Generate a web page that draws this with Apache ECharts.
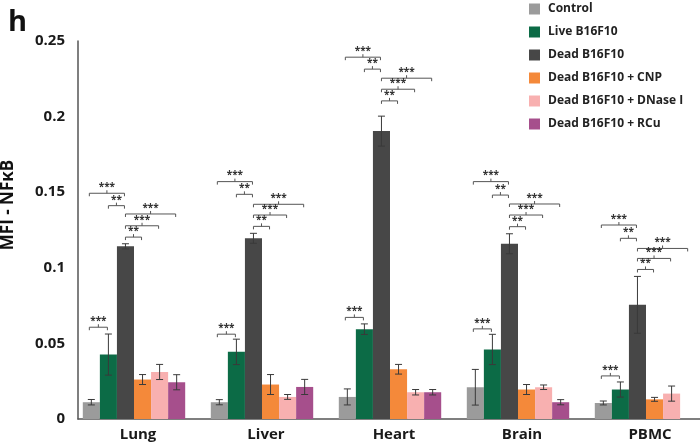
<!DOCTYPE html>
<html>
<head>
<meta charset="utf-8">
<script src="https://cdn.jsdelivr.net/npm/echarts@6/dist/echarts.min.js"></script>
<style>
  html, body { margin: 0; padding: 0; background: #fff; }
  #chart { width: 700px; height: 446px; }
</style>
</head>
<body>
<div id="chart"></div>
<script>
// ---- data ----
const categories = ['Lung', 'Liver', 'Heart', 'Brain', 'PBMC'];
const seriesNames = ['Control', 'Live B16F10', 'Dead B16F10', 'Dead B16F10 + CNP', 'Dead B16F10 + DNase I', 'Dead B16F10 + RCu'];
const yTicks = [0, 0.05, 0.1, 0.15, 0.2, 0.25];

const control    = [0.0111, 0.0111, 0.0146, 0.0210, 0.0106];
const controlErr = [0.0018, 0.0017, 0.0053, 0.0118, 0.0013];
const live       = [0.0426, 0.0444, 0.0594, 0.0460, 0.0195];
const liveErr    = [0.0136, 0.0084, 0.0035, 0.0100, 0.0050];
const dead       = [0.1142, 0.1195, 0.1904, 0.1159, 0.0755];
const deadErr    = [0.0017, 0.0033, 0.0099, 0.0066, 0.0188];
const cnp        = [0.0261, 0.0228, 0.0329, 0.0195, 0.0130];
const cnpErr     = [0.0033, 0.0066, 0.0032, 0.0033, 0.0013];
const dnase      = [0.0311, 0.0146, 0.0177, 0.0210, 0.0168];
const dnaseErr   = [0.0050, 0.0016, 0.0018, 0.0015, 0.0050];
const rcu        = [0.0243, 0.0212, 0.0177, 0.0111, null];
const rcuErr     = [0.0050, 0.0050, 0.0018, 0.0017, null];

// significance brackets: [fromBar, toBar, label]
const bracketPairs = [[0, 2, '***'], [1, 2, '**'], [2, 5, '***'], [2, 4, '***'], [2, 3, '**'], [0, 1, '***']];
// bracket heights (data units) for each category, in bracketPairs order
const lungBrackets  = [0.1493, 0.1411, 0.1356, 0.1278, 0.1203, 0.0607];
const liverBrackets = [0.1570, 0.1486, 0.1420, 0.1349, 0.1274, 0.0561];
const heartBrackets = [0.2393, 0.2314, 0.2254, 0.2181, 0.2104, 0.0672];
const brainBrackets = [0.1570, 0.1481, 0.1422, 0.1349, 0.1272, 0.0596];
const pbmcBrackets  = [0.1283, 0.1195, 0.1128, 0.1062, 0.0989, 0.0285];

// ---- build ----
const colors = ['#9b9b9b', '#0c6b46', '#474747', '#f4893a', '#f8b0b0', '#a64f8c'];
const values = [control, live, dead, cnp, dnase, rcu];
const errs = [controlErr, liveErr, deadErr, cnpErr, dnaseErr, rcuErr];
const bracketLevels = [lungBrackets, liverBrackets, heartBrackets, brainBrackets, pbmcBrackets];
const FONT = '"Open Sans", "Liberation Sans", sans-serif';
const NB = seriesNames.length;
const CAT_FRAC = 0.8;

const errData = [];
values.forEach((arr, s) => arr.forEach((v, c) => {
  if (v != null) errData.push([c, s, v, errs[s][c]]);
}));
const bracketData = [];
bracketLevels.forEach((lv, c) => lv.forEach((y, k) => {
  bracketData.push([c, bracketPairs[k][0], bracketPairs[k][1], y, bracketPairs[k][2]]);
}));

const barSeries = seriesNames.map((name, s) => ({
  name: name,
  type: 'bar',
  xAxisIndex: 0, yAxisIndex: 0,
  data: values[s],
  barGap: '0%',
  barCategoryGap: '20%',
  itemStyle: { color: colors[s] },
  emphasis: { disabled: true },
  z: 2
}));

const errSeries = {
  type: 'custom',
  xAxisIndex: 0, yAxisIndex: 0,
  data: errData,
  encode: { x: 0, y: 2 },
  clip: false,
  z: 5,
  silent: true,
  renderItem: function (params, api) {
    const c = api.value(0), s = api.value(1), m = api.value(2), e = api.value(3);
    const bw = api.size([1, 0])[0] * CAT_FRAC / NB;
    const cx = api.coord([c, m])[0] + (s - (NB - 1) / 2) * bw;
    const yt = api.coord([c, m + e])[1];
    const yb = api.coord([c, m - e])[1];
    const st = { stroke: '#3a3a3a', lineWidth: 1 };
    const h = 3.5;
    return {
      type: 'group',
      children: [
        { type: 'line', shape: { x1: cx, y1: yt, x2: cx, y2: yb }, style: st },
        { type: 'line', shape: { x1: cx - h, y1: yt, x2: cx + h, y2: yt }, style: st },
        { type: 'line', shape: { x1: cx - h, y1: yb, x2: cx + h, y2: yb }, style: st }
      ]
    };
  }
};

const bracketSeries = {
  type: 'custom',
  xAxisIndex: 0, yAxisIndex: 0,
  data: bracketData,
  encode: { x: 0, y: 3 },
  clip: false,
  z: 6,
  silent: true,
  renderItem: function (params, api) {
    const c = api.value(0), a = api.value(1), b = api.value(2), y = api.value(3);
    const label = bracketData[params.dataIndex][4];
    const bw = api.size([1, 0])[0] * CAT_FRAC / NB;
    const base = api.coord([c, y]);
    const x0 = base[0] + (a - (NB - 1) / 2) * bw - (a === 0 ? 2 : 0);
    const x1 = base[0] + (b - (NB - 1) / 2) * bw - 1;
    const py = base[1];
    const xm = (x0 + x1) / 2;
    const st = { stroke: '#555', lineWidth: 1, fill: null };
    return {
      type: 'group',
      children: [
        { type: 'polyline', shape: { points: [[x0, py + 3], [x0, py], [x1, py], [x1, py + 3]] }, style: st },
        { type: 'line', shape: { x1: xm, y1: py, x2: xm, y2: py - 3 }, style: st },
        { type: 'text', style: { text: label, x: xm, y: py - 1, textAlign: 'center', textVerticalAlign: 'bottom',
          fontSize: 10, fontWeight: 'bold', fill: '#333', fontFamily: FONT } }
      ]
    };
  }
};

const chart = echarts.init(document.getElementById('chart'), null, { renderer: 'canvas' });
chart.setOption({
  animation: false,
  backgroundColor: '#fff',
  title: {
    text: 'h', left: 3, top: 3,
    textStyle: { fontSize: 29, fontWeight: 'bold', color: '#111', fontFamily: FONT }
  },
  legend: {
    data: seriesNames,
    orient: 'vertical',
    left: 529, top: 3,
    icon: 'rect',
    itemWidth: 11, itemHeight: 11, itemGap: 11,
    padding: 0,
    selectedMode: false,
    textStyle: { fontSize: 12, fontWeight: 'bold', color: '#222', fontFamily: FONT, lineHeight: 12, padding: [0, 0, 0, 3] }
  },
  grid: [
    { left: 70, right: -10, top: 41, bottom: 27, outerBoundsMode: 'none', containLabel: false },
    { left: 78, right: 0, top: 41, bottom: 27, outerBoundsMode: 'none', containLabel: false }
  ],
  xAxis: [
    {
      type: 'category', gridIndex: 0, data: categories,
      axisLine: { show: false }, axisTick: { show: false },
      axisLabel: { fontSize: 15, fontWeight: 'bold', color: '#1a1a1a', fontFamily: FONT, margin: 8, padding: [0, 0, 0, 8] }
    },
    {
      type: 'value', gridIndex: 1, min: 0, max: 1,
      axisLine: { show: true, onZero: false, lineStyle: { color: '#555', width: 1.5 } },
      axisTick: { show: false }, axisLabel: { show: false }, splitLine: { show: false }
    }
  ],
  yAxis: [
    {
      type: 'value', gridIndex: 0, min: yTicks[0], max: yTicks[yTicks.length - 1], interval: 0.05,
      offset: -8,
      name: 'MFI - NFκB', nameLocation: 'middle', nameGap: 61, nameRotate: 90,
      nameTextStyle: { fontSize: 17, fontWeight: 'bold', color: '#111', fontFamily: FONT, padding: [0, 0, 0, 50] },
      axisLine: { show: true, lineStyle: { color: '#555', width: 1.5 } },
      axisTick: { show: false },
      splitLine: { show: false },
      axisLabel: { fontSize: 15, fontWeight: 'bold', color: '#1a1a1a', fontFamily: FONT, margin: 13,
        formatter: function (v) { return String(+v.toFixed(2)); } }
    },
    { type: 'value', gridIndex: 1, show: false, min: 0, max: 1 }
  ],
  series: barSeries.concat([errSeries, bracketSeries])
});
</script>
</body>
</html>
